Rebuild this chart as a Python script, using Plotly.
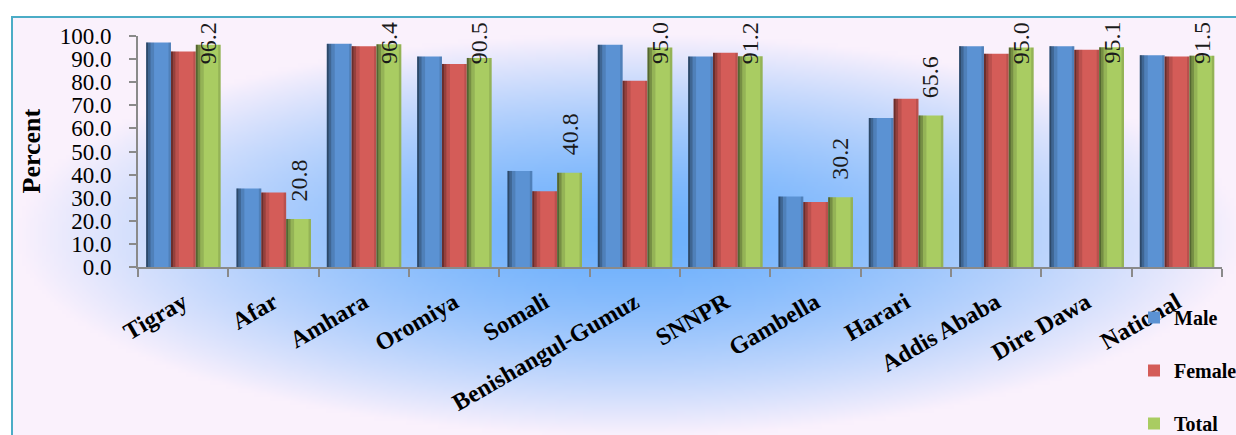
import base64, zlib, struct
import numpy as np
import plotly.graph_objects as go

# ---------------- data ----------------
categories = ["Tigray", "Afar", "Amhara", "Oromiya", "Somali", "Benishangul-Gumuz",
              "SNNPR", "Gambella", "Harari", "Addis Ababa", "Dire Dawa", "National"]
male = [97.2, 34.0, 96.6, 91.1, 41.6, 96.2, 91.1, 30.5, 64.5, 95.6, 95.6, 91.7]
female = [93.3, 32.2, 95.6, 87.9, 32.8, 80.6, 92.7, 28.1, 72.8, 92.3, 94.0, 91.1]
total = [96.2, 20.8, 96.4, 90.5, 40.8, 95.0, 91.2, 30.2, 65.6, 95.0, 95.1, 91.5]
series_names = ["Male", "Female", "Total"]
y_tick_values = [0, 10, 20, 30, 40, 50, 60, 70, 80, 90, 100]
y_tick_labels = [f"{v:.1f}" for v in y_tick_values]

# ---------------- layout geometry ----------------
W, H = 1236, 435
ML, MR, MT, MB = 138, 14, 36, 168
PW, PH = W - ML - MR, H - MT - MB
YMAX = 100
px_per_unit = PH / YMAX
px_per_cat = PW / len(categories)

def px_to_paper_x(px):
    return (px - ML) / PW

def px_to_paper_y(py):
    return (H - MB - py) / PH

colors = ["#5B92D3", "#D45C58", "#A9CC62"]
bar_w = 0.275
offsets = [-0.41, -0.135, 0.14]
serif = "Liberation Serif"

# ---------------- background gradient image ----------------
def make_png(arr):
    h, w, _ = arr.shape
    raw = b"".join(b"\x00" + arr[i].tobytes() for i in range(h))
    def chunk(t, d):
        c = struct.pack(">I", len(d)) + t + d
        return c + struct.pack(">I", zlib.crc32(t + d) & 0xFFFFFFFF)
    return (b"\x89PNG\r\n\x1a\n" + chunk(b"IHDR", struct.pack(">IIBBBBB", w, h, 8, 2, 0, 0, 0))
            + chunk(b"IDAT", zlib.compress(raw, 9)) + chunk(b"IEND", b""))

bx0, by0, bx1, by1 = 12, 17, 1236, 435
gw, gh = 306, 105
xs = bx0 + (np.arange(gw) + 0.5) * (bx1 - bx0) / gw
ys = by0 + (np.arange(gh) + 0.5) * (by1 - by0) / gh
XX, YY = np.meshgrid(xs, ys)
t = np.sqrt(((XX - 630) / 610) ** 2 + ((YY - 235) / 200) ** 2)
t = np.clip(t, 0, 1) ** 1.5
c_center = np.array([108, 176, 252], dtype=float)
c_edge = np.array([250, 241, 252], dtype=float)
img = (c_center[None, None, :] + (c_edge - c_center)[None, None, :] * t[..., None]).astype(np.uint8)
bg_uri = "data:image/png;base64," + base64.b64encode(make_png(img)).decode()

fig = go.Figure()

# ---------------- bars ----------------
shade_strips = [(0.0, 0.08, 0.5), (0.08, 0.18, 0.3), (0.18, 0.32, 0.12), (0.9, 1.0, 0.12)]
for name, vals, col, off in zip(series_names, [male, female, total], colors, offsets):
    fig.add_trace(go.Bar(
        x=categories, y=vals, name=name, marker=dict(color=col, line=dict(width=0)),
        width=bar_w, offset=off, legendgroup=name, hoverinfo="skip"))
    for s0, s1, op in shade_strips:
        fig.add_trace(go.Bar(
            x=categories, y=vals, showlegend=False, hoverinfo="skip",
            marker=dict(color=f"rgba(0,0,0,{op})", line=dict(width=0)),
            width=bar_w * (s1 - s0), offset=off + bar_w * s0))

# ---------------- data labels for Total ----------------
label_gap_units = 16 / px_per_unit
label_cap = (H - MB - 65) / px_per_unit
annotations = []
for c, v in zip(categories, total):
    annotations.append(dict(
        x=c, y=min(v + label_gap_units, label_cap), xref="x", yref="y",
        text=f"{v:.1f}", showarrow=False, textangle=-90,
        xanchor="center", yanchor="bottom", borderpad=0,
        xshift=(offsets[2] + bar_w / 2) * px_per_cat,
        font=dict(family=serif, size=24, color="#1a1a1a")))

annotations.append(dict(
    x=px_to_paper_x(31), y=0.5, xref="paper", yref="paper", text="Percent",
    showarrow=False, textangle=-90, xanchor="center", yanchor="middle",
    font=dict(family=serif, size=26, color="black", weight="bold")))

fig.update_layout(
    width=W, height=H,
    margin=dict(l=ML, r=MR, t=MT, b=MB, pad=0, autoexpand=False),
    paper_bgcolor="white", plot_bgcolor="rgba(0,0,0,0)",
    barmode="overlay",
    showlegend=True,
    legend=dict(
        x=px_to_paper_x(1134), y=px_to_paper_y(298), xanchor="left", yanchor="top",
        bgcolor="rgba(0,0,0,0)", tracegroupgap=24, traceorder="grouped",
        itemwidth=30,
        font=dict(family=serif, size=20, color="black", weight="bold")),
    images=[dict(
        source=bg_uri, xref="paper", yref="paper",
        x=px_to_paper_x(bx0), y=px_to_paper_y(by0),
        sizex=(bx1 - bx0) / PW, sizey=(by1 - by0) / PH,
        xanchor="left", yanchor="top", sizing="stretch", layer="below")],
    shapes=[dict(
        type="rect", xref="paper", yref="paper",
        x0=px_to_paper_x(12), x1=px_to_paper_x(1245),
        y0=px_to_paper_y(445), y1=px_to_paper_y(17),
        line=dict(color="#4BACC6", width=2), fillcolor="rgba(0,0,0,0)", layer="above")],
    annotations=annotations,
    xaxis=dict(
        type="category", categoryorder="array", categoryarray=categories,
        range=[-0.5, len(categories) - 0.5], automargin=False,
        showline=True, linecolor="#8A8A8A", linewidth=2,
        ticks="outside", tickson="boundaries", ticklen=8, tickcolor="#8A8A8A", tickwidth=2,
        tickangle=-30, ticklabelstandoff=10,
        tickfont=dict(family=serif, size=24, color="black", weight="bold"),
        showgrid=False, zeroline=False),
    yaxis=dict(
        range=[0, YMAX], tickvals=y_tick_values, ticktext=y_tick_labels, automargin=False,
        showline=True, linecolor="#8A8A8A", linewidth=2,
        ticks="outside", ticklen=7, tickcolor="#8A8A8A", tickwidth=2,
        ticklabelstandoff=13,
        tickfont=dict(family=serif, size=23, color="black"),
        showgrid=False, zeroline=False),
)

fig.write_html("out.html", config={"displayModeBar": False},
               post_script="document.body.style.margin='0';document.body.style.overflow='hidden';")
